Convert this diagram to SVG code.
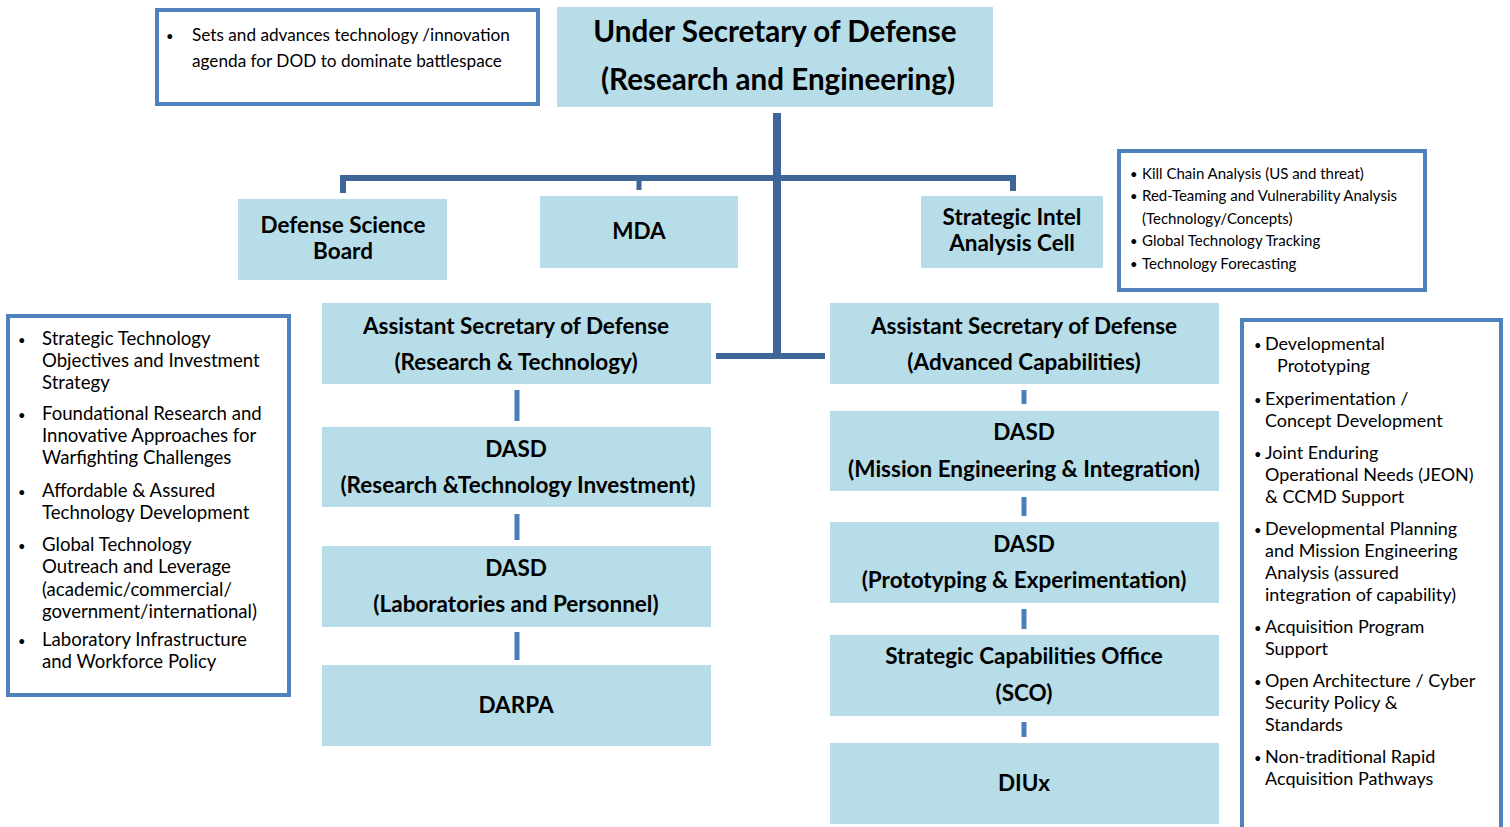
<svg xmlns="http://www.w3.org/2000/svg" width="1510" height="827" viewBox="0 0 1510 827">
<style>
.node{fill:#b7dde8}
.call{fill:#fff;stroke:#4f81bd;stroke-width:4}
.t{font-family:Lato,"Liberation Sans",sans-serif;font-weight:bold;fill:#000;text-anchor:middle;font-size:22.5px}
.b{font-family:Lato,"Liberation Sans",sans-serif;fill:#000}
.main{stroke:#3e6699;fill:none}
.sub{stroke:#4a7ebb;stroke-width:5;fill:none}
.sb{font-size:13px}
</style>
<rect width="1510" height="827" fill="#fff"/>
<g id="connectors">
<line class="main" x1="777" y1="113" x2="777" y2="359" stroke-width="8"/>
<polyline class="main" points="343,193 343,178 1013,178 1013,191" stroke-width="6"/>
<line class="main" x1="639" y1="178" x2="639" y2="190" stroke-width="5"/>
<line class="main" x1="716" y1="356" x2="825" y2="356" stroke-width="6"/>
<line class="sub" x1="517" y1="390" x2="517" y2="421"/>
<line class="sub" x1="517" y1="514" x2="517" y2="540"/>
<line class="sub" x1="517" y1="632" x2="517" y2="660"/>
<line class="sub" x1="1024" y1="390" x2="1024" y2="404"/>
<line class="sub" x1="1024" y1="497" x2="1024" y2="516"/>
<line class="sub" x1="1024" y1="609" x2="1024" y2="629"/>
<line class="sub" x1="1024" y1="722" x2="1024" y2="737"/>
</g>
<g id="usd">
<rect class="node" x="557" y="7" width="436" height="100"/>
<text class="t" x="775" y="42" style="font-size:29.6px">Under Secretary of Defense</text>
<text class="t" x="778" y="90" style="font-size:29.6px">(Research and Engineering)</text>
</g>
<g id="callout-top">
<rect class="call" x="157" y="10" width="381" height="94"/>
<text class="b" font-size="17.2"><tspan x="166" y="41" class="sb">•</tspan><tspan x="192" y="41">Sets and advances technology /innovation</tspan><tspan x="192" y="67">agenda for DOD to dominate battlespace</tspan></text>
</g>
<g id="dsb">
<rect class="node" x="238" y="199" width="209" height="81"/>
<text class="t" x="343" y="233">Defense Science</text>
<text class="t" x="343" y="259">Board</text>
</g>
<g id="mda">
<rect class="node" x="540" y="196" width="198" height="72"/>
<text class="t" x="639" y="239">MDA</text>
</g>
<g id="siac">
<rect class="node" x="921" y="196" width="182" height="72"/>
<text class="t" x="1012" y="225">Strategic Intel</text>
<text class="t" x="1012" y="251">Analysis Cell</text>
</g>
<g id="callout-siac">
<rect class="call" x="1119" y="151" width="306" height="139"/>
<text class="b" font-size="15"><tspan x="1130" y="179" class="sb">•</tspan><tspan x="1142" y="179">Kill Chain Analysis (US and threat)</tspan><tspan x="1130" y="201" class="sb">•</tspan><tspan x="1142" y="201">Red-Teaming and Vulnerability Analysis</tspan><tspan x="1142" y="224">(Technology/Concepts)</tspan><tspan x="1130" y="246" class="sb">•</tspan><tspan x="1142" y="246">Global Technology Tracking</tspan><tspan x="1130" y="269" class="sb">•</tspan><tspan x="1142" y="269">Technology Forecasting</tspan></text>
</g>
<g id="asd-rt">
<rect class="node" x="322" y="303" width="389" height="81"/>
<text class="t" x="516" y="334">Assistant Secretary of Defense</text>
<text class="t" x="516" y="370">(Research &amp; Technology)</text>
</g>
<g id="dasd-rti">
<rect class="node" x="322" y="427" width="389" height="80"/>
<text class="t" x="516" y="457">DASD</text>
<text class="t" x="518" y="493">(Research &amp;Technology Investment)</text>
</g>
<g id="dasd-lp">
<rect class="node" x="322" y="546" width="389" height="81"/>
<text class="t" x="516" y="576">DASD</text>
<text class="t" x="516" y="612">(Laboratories and Personnel)</text>
</g>
<g id="darpa">
<rect class="node" x="322" y="665" width="389" height="81"/>
<text class="t" x="516" y="713">DARPA</text>
</g>
<g id="asd-ac">
<rect class="node" x="830" y="303" width="389" height="81"/>
<text class="t" x="1024" y="334">Assistant Secretary of Defense</text>
<text class="t" x="1024" y="370">(Advanced Capabilities)</text>
</g>
<g id="dasd-mei">
<rect class="node" x="830" y="411" width="389" height="80"/>
<text class="t" x="1024" y="440">DASD</text>
<text class="t" x="1024" y="477">(Mission Engineering &amp; Integration)</text>
</g>
<g id="dasd-pe">
<rect class="node" x="830" y="522" width="389" height="81"/>
<text class="t" x="1024" y="552">DASD</text>
<text class="t" x="1024" y="588">(Prototyping &amp; Experimentation)</text>
</g>
<g id="sco">
<rect class="node" x="830" y="635" width="389" height="81"/>
<text class="t" x="1024" y="664">Strategic Capabilities Office</text>
<text class="t" x="1024" y="701">(SCO)</text>
</g>
<g id="diux">
<rect class="node" x="830" y="743" width="389" height="81"/>
<text class="t" x="1024" y="791">DIUx</text>
</g>
<g id="callout-left">
<rect class="call" x="8" y="316" width="281" height="379"/>
<text class="b" font-size="18.6"><tspan x="18" y="345" class="sb">•</tspan><tspan x="42" y="345">Strategic Technology</tspan><tspan x="42" y="367">Objectives and Investment</tspan><tspan x="42" y="389">Strategy</tspan><tspan x="18" y="420" class="sb">•</tspan><tspan x="42" y="420">Foundational Research and</tspan><tspan x="42" y="442">Innovative Approaches for</tspan><tspan x="42" y="464">Warfighting Challenges</tspan><tspan x="18" y="497" class="sb">•</tspan><tspan x="42" y="497">Affordable &amp; Assured</tspan><tspan x="42" y="519">Technology Development</tspan><tspan x="18" y="551" class="sb">•</tspan><tspan x="42" y="551">Global Technology</tspan><tspan x="42" y="573">Outreach and Leverage</tspan><tspan x="42" y="596">(academic/commercial/</tspan><tspan x="42" y="618">government/international)</tspan><tspan x="18" y="646" class="sb">•</tspan><tspan x="42" y="646">Laboratory Infrastructure</tspan><tspan x="42" y="668">and Workforce Policy</tspan></text>
</g>
<g id="callout-right">
<rect class="call" x="1242" y="320" width="259" height="510"/>
<text class="b" font-size="18"><tspan x="1254" y="350" class="sb">•</tspan><tspan x="1265" y="350">Developmental</tspan><tspan x="1277" y="372">Prototyping</tspan><tspan x="1254" y="405" class="sb">•</tspan><tspan x="1265" y="405">Experimentation /</tspan><tspan x="1265" y="427">Concept Development</tspan><tspan x="1254" y="459" class="sb">•</tspan><tspan x="1265" y="459">Joint Enduring</tspan><tspan x="1265" y="481">Operational Needs (JEON)</tspan><tspan x="1265" y="503">&amp; CCMD Support</tspan><tspan x="1254" y="535" class="sb">•</tspan><tspan x="1265" y="535">Developmental Planning</tspan><tspan x="1265" y="557">and Mission Engineering</tspan><tspan x="1265" y="579">Analysis (assured</tspan><tspan x="1265" y="601">integration of capability)</tspan><tspan x="1254" y="633" class="sb">•</tspan><tspan x="1265" y="633">Acquisition Program</tspan><tspan x="1265" y="655">Support</tspan><tspan x="1254" y="687" class="sb">•</tspan><tspan x="1265" y="687">Open Architecture / Cyber</tspan><tspan x="1265" y="709">Security Policy &amp;</tspan><tspan x="1265" y="731">Standards</tspan><tspan x="1254" y="763" class="sb">•</tspan><tspan x="1265" y="763">Non-traditional Rapid</tspan><tspan x="1265" y="785">Acquisition Pathways</tspan></text>
</g>
</svg>
